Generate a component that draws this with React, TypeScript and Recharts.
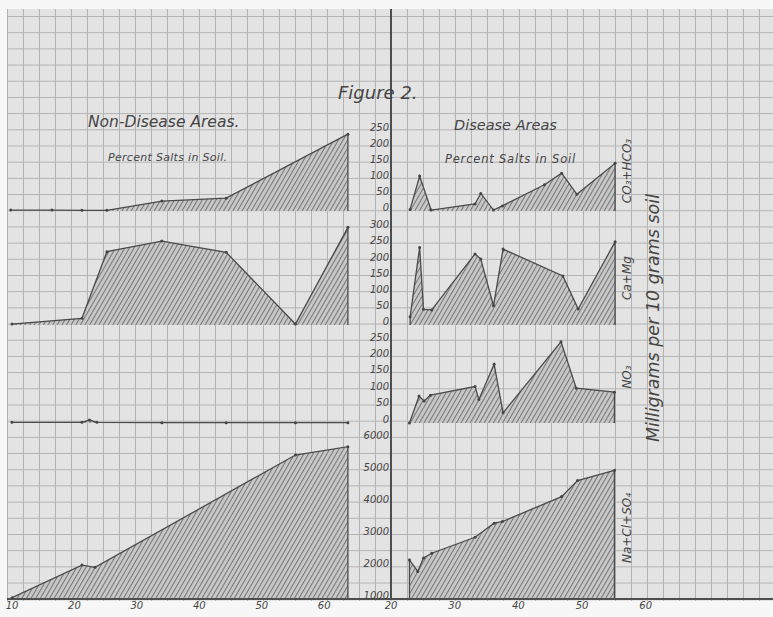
import React from 'react';
import { AreaChart, Area, XAxis, YAxis } from 'recharts';

// Non-disease areas (left column), x positions and values
const ndCarbX = [9.8, 16.4, 21.2, 25.2, 34.0, 44.3, 63.8];
const ndCarbY = [3, 3, 2, 2, 31, 40, 240];
const ndCaMgX = [10.0, 21.2, 25.2, 34.0, 44.3, 55.4, 63.8];
const ndCaMgY = [3, 21, 229, 262, 227, 3, 305];
const ndNitX = [10.0, 21.2, 22.4, 23.6, 34.0, 44.3, 55.4, 63.8];
const ndNitY = [2, 2, 9, 2, 1, 1, 1, 1];
const ndNaX = [10.0, 21.2, 23.3, 55.4, 63.8];
const ndNaY = [1040, 2060, 1990, 5500, 5760];

// Disease areas (right column)
const dCarbX = [23.0, 24.5, 26.3, 33.2, 34.1, 36.1, 37.5, 44.1, 46.8, 49.2, 55.2];
const dCarbY = [5, 109, 3, 22, 55, 3, 16, 82, 118, 52, 149];
const dCaMgX = [23.0, 24.5, 25.1, 26.4, 33.2, 34.1, 36.1, 37.6, 47.0, 49.4, 55.2];
const dCaMgY = [26, 242, 49, 47, 222, 206, 60, 237, 153, 50, 260];
const dNitX = [22.9, 24.4, 25.2, 26.2, 33.2, 33.8, 36.2, 37.6, 46.7, 49.1, 55.1];
const dNitY = [0, 82, 67, 85, 111, 72, 179, 31, 248, 106, 94];
const dNaX = [22.9, 24.2, 25.1, 26.4, 33.2, 36.2, 37.5, 46.8, 49.3, 55.1];
const dNaY = [2220, 1860, 2280, 2430, 2930, 3370, 3420, 4200, 4700, 5020];

const carbTicks = [0, 50, 100, 150, 200, 250];
const caMgTicks = [0, 50, 100, 150, 200, 250, 300];
const nitTicks = [0, 50, 100, 150, 200, 250];
const naTicks = [1000, 2000, 3000, 4000, 5000, 6000];
const leftXTicks = [10, 20, 30, 40, 50, 60];
const rightXTicks = [20, 30, 40, 50, 60];

const rowLabels = ['CO\u2083+HCO\u2083', 'Ca+Mg', 'NO\u2083', 'Na+Cl+SO\u2084'];

// polygon closed down to the base line at both ends
const toRows = (xs: number[], ys: number[], base: number) => [
  { x: xs[0], v: base, edge: true },
  ...xs.map((x, i) => ({ x, v: ys[i], edge: false })),
  { x: xs[xs.length - 1], v: base, edge: true },
];

const rows = [
  { top: 9, h: 202, yDomain: [0, 631], ticks: carbTicks, base: 0, left: toRows(ndCarbX, ndCarbY, 0), right: toRows(dCarbX, dCarbY, 0) },
  { top: 211, h: 114, yDomain: [0, 356], ticks: caMgTicks, base: 0, left: toRows(ndCaMgX, ndCaMgY, 0), right: toRows(dCaMgX, dCaMgY, 0) },
  { top: 325, h: 98, yDomain: [0, 299], ticks: nitTicks, base: 0, left: toRows(ndNitX, ndNitY, 0), right: toRows(dNitX, dNitY, 0) },
  { top: 423, h: 176, yDomain: [1000, 6500], ticks: naTicks, base: 1000, left: toRows(ndNaX, ndNaY, 1000), right: toRows(dNaX, dNaY, 1000) },
];

const ink = '#454545';
const font = '"DejaVu Sans", sans-serif';
const axisLine = { stroke: '#4e4e4e', strokeWidth: 2 };
const tickFont = { fontSize: 10, fill: ink, fontStyle: 'italic', fontFamily: font };

const Hatch = ({ id }: { id: string }) => (
  <defs>
    <pattern id={id} patternUnits="userSpaceOnUse" width={4} height={4} patternTransform="rotate(30)">
      <rect width={4} height={4} fill="#c8c8c8" />
      <line x1={0.5} y1={0} x2={0.5} y2={4} stroke="#767676" strokeWidth={1.1} />
    </pattern>
  </defs>
);

// vertex dot, skipped on the closing points at the base line
const VertexDot = (p: any) => {
  const { cx, cy, payload, index } = p;
  if (payload?.edge || cx == null || cy == null) return <g key={`d${index}`} />;
  return <circle key={`d${index}`} cx={cx} cy={cy} r={1.5} fill="#444" />;
};

function Strip({ idx, side }: { idx: number; side: 'left' | 'right' }) {
  const r = rows[idx];
  const last = idx === rows.length - 1;
  const isLeft = side === 'left';
  const id = `hatch-${side}-${idx}`;
  const width = isLeft ? 384 : 427;
  return (
    <div style={{ position: 'absolute', left: isLeft ? 7 : 346, top: r.top }}>
      <AreaChart width={width} height={r.h + (last ? 18 : 0)} data={isLeft ? r.left : r.right} margin={{ top: 0, right: 0, bottom: 0, left: 0 }}>
        <Hatch id={id} />
        <XAxis
          type="number"
          dataKey="x"
          domain={isLeft ? [9.2, 70.7] : [20, 80]}
          ticks={last ? (isLeft ? leftXTicks : rightXTicks) : []}
          tick={last ? tickFont : false}
          interval={0}
          height={last ? 18 : 0}
          tickLine={false}
          tickSize={0}
          tickMargin={3}
          axisLine={axisLine}
        />
        <YAxis
          type="number"
          domain={r.yDomain}
          ticks={r.ticks}
          hide={isLeft}
          width={45}
          interval={0}
          tickLine={false}
          tickSize={0}
          tickMargin={2}
          tick={{ ...tickFont, dy: -4 }}
          axisLine={axisLine}
        />
        <Area
          type="linear"
          dataKey="v"
          baseValue={r.base}
          stroke="#4a4a4a"
          strokeWidth={1.3}
          fill={`url(#${id})`}
          fillOpacity={1}
          dot={VertexDot}
          isAnimationActive={false}
        />
      </AreaChart>
    </div>
  );
}

const txt = (extra: React.CSSProperties): React.CSSProperties => ({
  position: 'absolute',
  fontFamily: font,
  fontStyle: 'italic',
  color: ink,
  whiteSpace: 'nowrap',
  ...extra,
});

const vert = (cx: number, cy: number, size: number): React.CSSProperties =>
  txt({ left: cx, top: cy, fontSize: size, transform: 'translate(-50%, -50%) rotate(-90deg)' });

export default function App() {
  return (
    <div style={{ position: 'absolute', left: 0, top: 0, width: 773, height: 617, background: '#f7f7f7', overflow: 'hidden' }}>
      <style>{'.recharts-surface { overflow: visible; }'}</style>
      <div
        style={{
          position: 'absolute',
          left: 7,
          top: 9,
          width: 766,
          height: 592,
          backgroundColor: '#e3e3e3',
          backgroundImage:
            'linear-gradient(to right, #b2b2b2 1px, transparent 1px), linear-gradient(to bottom, #b2b2b2 1px, transparent 1px)',
          backgroundSize: '16px 16.2px',
          backgroundPosition: '0px 7px',
        }}
      />
      {rows.map((_, i) => (
        <React.Fragment key={i}>
          <Strip idx={i} side="left" />
          <Strip idx={i} side="right" />
        </React.Fragment>
      ))}

      <div style={txt({ left: 338, top: 82, fontSize: 18 })}>Figure 2.</div>
      <div style={txt({ left: 88, top: 113, fontSize: 15.5 })}>Non-Disease Areas.</div>
      <div style={txt({ left: 108, top: 151, fontSize: 11, letterSpacing: 0.3 })}>Percent Salts in Soil.</div>
      <div style={txt({ left: 454, top: 117, fontSize: 14.5 })}>Disease Areas</div>
      <div style={txt({ left: 445, top: 152, fontSize: 11.5, letterSpacing: 0.8 })}>Percent Salts in Soil</div>

      <div style={vert(627, 171, 12)}>{rowLabels[0]}</div>
      <div style={vert(627, 278, 12)}>{rowLabels[1]}</div>
      <div style={vert(627, 377, 12)}>{rowLabels[2]}</div>
      <div style={vert(627, 528, 12)}>{rowLabels[3]}</div>
      <div style={vert(653, 318, 17.5)}>Milligrams per 10 grams soil</div>
    </div>
  );
}
